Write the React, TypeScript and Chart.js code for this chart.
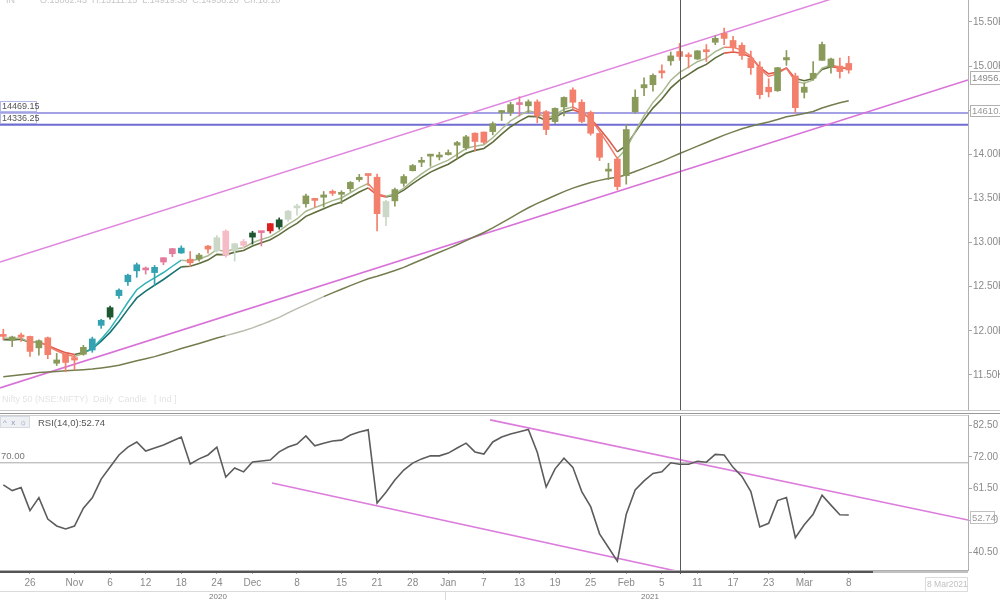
import React, { useEffect, useRef } from 'react';
import { Chart, registerables } from 'chart.js';

Chart.register(...registerables);
Chart.defaults.font.family = "'Liberation Sans', Arial, sans-serif";

// ---------- data (trading days 21 Oct 2020 .. 8 Mar 2021, index 0..95) ----------
const X_MIN = -0.37;
const X_MAX = 108.4;

const opens = [
  11957, 11931, 11931, 11937, 11807, 11922, 11633, 11734, 11697, 11734,
  11783, 12062, 12156, 12399, 12556, 12680, 12691, 12660, 12829, 12932,
  12882, 12812, 12813, 12960, 12906, 13130, 12907, 13012, 13062, 13122,
  13215, 13177, 13264, 13394, 13440, 13495, 13540, 13563, 13547, 13611,
  13714, 13764, 13741, 13292, 13473, 13672, 13815, 13910, 13980, 13970,
  13997, 14104, 14075, 14240, 14253, 14258, 14474, 14474, 14580, 14550,
  14595, 14484, 14371, 14538, 14730, 14590, 14477, 14237, 13810, 13946,
  13758, 14482, 14754, 14789, 14940, 15060, 15165, 15108, 15080, 15174,
  15270, 15371, 15290, 15236, 15090, 14990, 14760, 14720, 15070, 14888,
  14703, 14863, 15065, 14990, 15000, 15030,
];
const highs = [
  12018, 11940, 11975, 11942, 11899, 11930, 11744, 11749, 11726, 11836,
  11929, 12131, 12281, 12475, 12643, 12769, 12724, 12741, 12829, 12934,
  12963, 12899, 12879, 12968, 13079, 13145, 12993, 13036, 13128, 13128,
  13216, 13280, 13367, 13436, 13549, 13503, 13579, 13597, 13588, 13692,
  13773, 13771, 13777, 13478, 13619, 13771, 13885, 13967, 13997, 14024,
  14050, 14148, 14215, 14244, 14253, 14367, 14498, 14590, 14653, 14617,
  14618, 14495, 14528, 14652, 14753, 14619, 14491, 14237, 13899, 13967,
  14336, 14731, 14868, 14913, 15015, 15160, 15257, 15151, 15176, 15244,
  15341, 15432, 15336, 15264, 15170, 15050, 14857, 14986, 15177, 14920,
  14806, 15052, 15273, 15092, 15092, 15111,
];
const lows = [
  11898, 11822, 11880, 11711, 11723, 11684, 11607, 11535, 11557, 11723,
  11757, 12028, 12132, 12367, 12515, 12607, 12643, 12513, 12749, 12840,
  12877, 12730, 12790, 12881, 12894, 12833, 12790, 12936, 12983, 12962,
  13107, 13152, 13241, 13311, 13400, 13400, 13402, 13534, 13441, 13580,
  13693, 13647, 13131, 13192, 13413, 13638, 13811, 13860, 13865, 13937,
  13991, 13954, 14049, 14040, 14119, 14221, 14384, 14439, 14435, 14471,
  14357, 14222, 14350, 14435, 14517, 14358, 14218, 13929, 13713, 13597,
  13662, 14469, 14664, 14715, 14864, 15010, 15065, 14980, 15075, 15052,
  15243, 15243, 15164, 15075, 14905, 14630, 14651, 14713, 15008, 14468,
  14638, 14840, 15064, 14919, 14863, 14919,
];
const closes = [
  11937, 11896, 11930, 11767, 11889, 11730, 11670, 11642, 11669, 11813,
  11908, 12120, 12263, 12461, 12631, 12749, 12690, 12720, 12780, 12874,
  12938, 12771, 12859, 12926, 13055, 12858, 12987, 12969, 13109, 13113,
  13133, 13258, 13356, 13393, 13529, 13478, 13514, 13558, 13567, 13682,
  13740, 13760, 13328, 13466, 13601, 13749, 13873, 13932, 13982, 13982,
  14018, 14133, 14199, 14146, 14137, 14347, 14485, 14564, 14564, 14596,
  14434, 14281, 14521, 14645, 14590, 14372, 14239, 13967, 13818, 13635,
  14281, 14647, 14790, 14895, 14924, 15116, 15109, 15106, 15173, 15163,
  15315, 15314, 15209, 15119, 14982, 14676, 14708, 14982, 15097, 14529,
  14761, 14919, 15245, 15081, 14938, 14956,
];
const emaFast = [
  11920, 11912, 11918, 11868, 11875, 11827, 11775, 11731, 11710, 11744,
  11799, 11906, 12025, 12170, 12324, 12466, 12541, 12601, 12661, 12732,
  12801, 12791, 12814, 12851, 12919, 12899, 12928, 12942, 12998, 13036,
  13068, 13131, 13206, 13268, 13355, 13396, 13435, 13476, 13506, 13565,
  13623, 13669, 13555, 13525, 13550, 13616, 13702, 13779, 13847, 13892,
  13934, 14000, 14066, 14093, 14108, 14188, 14287, 14379, 14441, 14493,
  14473, 14409, 14446, 14512, 14538, 14483, 14402, 14257, 14111, 13952,
  14062, 14257, 14435, 14588, 14700, 14839, 14929, 14988, 15050, 15088,
  15164, 15214, 15212, 15181, 15115, 14969, 14882, 14915, 14976, 14827,
  14805, 14843, 14977, 15012, 14987, 14977,
];
const emaSlow = [
  11900, 11898, 11905, 11868, 11873, 11835, 11792, 11753, 11732, 11755,
  11797, 11883, 11983, 12107, 12243, 12373, 12451, 12517, 12582, 12654,
  12725, 12732, 12762, 12802, 12866, 12861, 12892, 12910, 12961, 12999,
  13032, 13090, 13158, 13218, 13297, 13342, 13384, 13427, 13461, 13517,
  13573, 13620, 13539, 13518, 13540, 13595, 13668, 13736, 13799, 13845,
  13888, 13950, 14013, 14045, 14066, 14139, 14228, 14313, 14376, 14430,
  14427, 14385, 14419, 14478, 14505, 14468, 14406, 14289, 14166, 14028,
  14101, 14249, 14393, 14524, 14627, 14753, 14842, 14907, 14973, 15019,
  15093, 15147, 15159, 15145, 15100, 14986, 14913, 14933, 14978, 14859,
  14835, 14859, 14963, 14994, 14978, 14972,
];
const sma50 = [
  11479, 11491, 11503, 11515, 11528, 11535, 11540, 11547, 11553, 11560,
  11568, 11580, 11594, 11610, 11635, 11661, 11684, 11708, 11737, 11767,
  11799, 11829, 11857, 11887, 11919, 11946, 11973, 12002, 12034, 12071,
  12111, 12153, 12204, 12251, 12297, 12342, 12388, 12430, 12472, 12512,
  12552, 12591, 12619, 12650, 12683, 12719, 12763, 12806, 12848, 12890,
  12932, 12976, 13022, 13069, 13114, 13167, 13223, 13281, 13339, 13395,
  13445, 13489, 13534, 13577, 13617, 13649, 13680, 13705, 13726, 13741,
  13768, 13806, 13844, 13884, 13921, 13966, 14009, 14051, 14093, 14134,
  14177, 14218, 14255, 14290, 14319, 14343, 14367, 14395, 14426, 14443,
  14463, 14486, 14525, 14557, 14584, 14608,
];
const rsiValues = [
  62.7, 60.8, 61.8, 54.2, 58.5, 51.4, 49.1, 48.1, 49.1, 55.0,
  58.4, 64.6, 68.6, 72.6, 75.2, 76.9, 73.9, 74.9, 75.9, 77.2,
  78.5, 69.6, 71.3, 72.6, 75.2, 65.3, 68.3, 67.0, 70.3, 70.6,
  70.9, 73.6, 75.2, 76.2, 78.9, 75.6, 76.5, 77.2, 77.5, 79.2,
  80.2, 80.9, 56.7, 60.3, 64.3, 67.6, 69.9, 71.3, 72.3, 72.3,
  73.2, 74.9, 76.5, 73.6, 72.9, 76.9, 78.5, 79.5, 80.3, 81.0,
  73.5, 62.0, 68.0, 71.5, 68.5, 60.5, 55.5, 46.5, 42.0, 37.5,
  53.0, 61.0, 64.0, 66.5, 67.0, 70.0, 69.5, 69.5, 70.5, 70.2,
  72.8, 72.6, 68.5, 65.5, 60.5, 48.8, 50.0, 57.5, 58.5, 45.2,
  49.5, 53.0, 59.3, 56.0, 52.8, 52.74,
];

const tickIndex = [3, 8, 12, 16, 20, 24, 28, 33, 38, 42, 46, 50, 54, 58, 62, 66, 70, 74, 78, 82, 86, 90, 95];
const tickLabels = ['26', 'Nov', '6', '12', '18', '24', 'Dec', '8', '15', '21', '28', 'Jan', '7', '13', '19', '25', 'Feb', '5', '11', '17', '23', 'Mar', '8'];
const priceTicks = [11500, 12000, 12500, 13000, 13500, 14000, 14500, 15000, 15500];
const rsiTicks = [40.5, 51, 61.5, 72, 82.5];
const levelValues = [14469.15, 14336.25];
const levelLabels = ['14469.15', '14336.25'];
const channelIdx = [X_MIN, X_MAX];
const priceUpperChannel = [12781, 16250];
const priceLowerChannel = [11353, 14843];
const rsiUpperIdx = [54.7, X_MAX];
const rsiUpperVal = [84.2, 51.1];
const rsiLowerIdx = [30.2, 76.1];
const rsiLowerVal = [63.3, 33.9];
const rsiLevel = 70;
const cursorIndex = 76;
const lastClose = 14956.2;
const lastSma = 14610.0;
const lastRsi = 52.74;

// ---------- styles ----------
const candleCodes =
  'SGSSGSGSSG' + 'TTDTTTPTPP' + 'TSGSLKLKDP' + 'RDLLGSGSGG' + 'GSSLGGGGGG' +
  'GGGSSGGGPG' + 'SSGGSSSSGS' + 'GGGGSGSSGS' + 'GSSSSSSGGS' + 'GGGGSS';
const candlePalette: Record<string, string> = {
  S: '#f2806c', G: '#8a9a5a', T: '#35a2b2', D: '#1d5630',
  P: '#e47b9c', K: '#f6bcc5', L: '#cbd8c8', R: '#de1f1f',
};
const trendCodes =
  'uuuuu' + 'dddd' + 'u' + 'ttttttttttt' + 'uuuuuuuuuuuuuuuuuuuuu' + 'dd' +
  'uuuuuuuuuuuuuuuuuuuuu' + 'ddddd' + 'uuuuuuuuuuuu' + 'dddddddd' + 'uuuu' + 'dd';
const fastPalette: Record<string, string> = { u: '#a9b98f', t: '#2fb3b8', d: '#f07a6a' };
const slowPalette: Record<string, string> = { u: '#5f6e3c', t: '#1b7272', d: '#e05a4a' };
const smaFadeFrom = 25;
const smaFadeTo = 36;

const candleColors = candleCodes.split('').map((c) => candlePalette[c]);

function drawBox(ctx: CanvasRenderingContext2D, x: number, y: number, w: number, h: number, text: string, stroke: string, color: string, font: string) {
  ctx.save();
  ctx.fillStyle = '#ffffff';
  ctx.fillRect(x, y, w, h);
  ctx.strokeStyle = stroke;
  ctx.lineWidth = 1;
  ctx.strokeRect(x + 0.5, y + 0.5, w - 1, h - 1);
  ctx.fillStyle = color;
  ctx.font = font;
  ctx.textBaseline = 'middle';
  ctx.textAlign = 'left';
  ctx.fillText(text, x + 2, y + h / 2 + 0.5);
  ctx.restore();
}

const cursorPlugin = (extraBottom: number) => ({
  id: 'cursorLine',
  afterDatasetsDraw(chart: any) {
    const { ctx, chartArea, scales } = chart;
    const x = Math.round(scales.x.getPixelForValue(cursorIndex)) + 0.5;
    ctx.save();
    ctx.strokeStyle = '#5a5a5a';
    ctx.lineWidth = 1;
    ctx.beginPath();
    ctx.moveTo(x, chartArea.top);
    ctx.lineTo(x, chartArea.bottom + extraBottom);
    ctx.stroke();
    ctx.restore();
  },
});

const pricePlugin = {
  id: 'priceDecor',
  afterDraw(chart: any) {
    const { ctx, scales } = chart;
    const ys = scales.y;
    ctx.save();
    ctx.font = "9px 'Liberation Sans', Arial";
    ctx.fillStyle = '#c6c6c6';
    ctx.textBaseline = 'alphabetic';
    ctx.fillText('IN', 6, 3);
    ctx.fillText('O:15062.45  H:15111.15  L:14919.30  C:14956.20  Ch:18.10', 40, 3);
    ctx.fillStyle = '#e4e4e4';
    ctx.fillText('Nifty 50 (NSE:NIFTY)  Daily  Candle   [ Ind ]', 2, 402);
    ctx.restore();
    levelValues.forEach((v, i) => {
      const y = ys.getPixelForValue(v);
      drawBox(ctx, 0, Math.round(y) - 12, 37, 11, levelLabels[i], '#b4b8e6', '#555', "9px 'Liberation Sans', Arial");
    });
    const yc = ys.getPixelForValue(lastClose);
    drawBox(ctx, 970, Math.round(yc) + 1, 31, 14, lastClose.toFixed(1), '#b0b0b0', '#888', "9.5px 'Liberation Sans', Arial");
    const ym = ys.getPixelForValue(lastSma);
    drawBox(ctx, 970, Math.round(ym) + 4, 31, 12, lastSma.toFixed(1), '#b0b0b0', '#999', "9.5px 'Liberation Sans', Arial");
    ctx.save();
    ctx.strokeStyle = '#c8c8c8';
    ctx.lineWidth = 1;
    ctx.beginPath();
    ctx.moveTo(0, 410.5);
    ctx.lineTo(1000, 410.5);
    ctx.stroke();
    ctx.restore();
  },
};

const rsiPlugin = {
  id: 'rsiDecor',
  afterDraw(chart: any) {
    const { ctx, scales, chartArea } = chart;
    const ys = scales.y;
    ctx.save();
    ctx.strokeStyle = '#9a9a9a';
    ctx.lineWidth = 1;
    ctx.beginPath();
    ctx.moveTo(0, 1.5);
    ctx.lineTo(1000, 1.5);
    ctx.stroke();
    ctx.strokeStyle = '#d0d0d0';
    ctx.beginPath();
    ctx.moveTo(0, chartArea.top + 0.5);
    ctx.lineTo(968, chartArea.top + 0.5);
    ctx.stroke();
    ctx.strokeStyle = '#555';
    ctx.lineWidth = 2;
    ctx.beginPath();
    ctx.moveTo(0, chartArea.bottom + 2);
    ctx.lineTo(873, chartArea.bottom + 2);
    ctx.stroke();
    ctx.strokeStyle = '#c0c0c0';
    ctx.beginPath();
    ctx.moveTo(873, chartArea.bottom + 2);
    ctx.lineTo(968, chartArea.bottom + 2);
    ctx.stroke();
    ctx.fillStyle = '#eef0f4';
    ctx.fillRect(0, 4, 30, 12);
    ctx.strokeStyle = '#d6dae2';
    ctx.lineWidth = 1;
    ctx.strokeRect(0.5, 4.5, 29, 11);
    ctx.fillStyle = '#8d9bb8';
    ctx.font = "8px 'Liberation Sans', Arial";
    ctx.textBaseline = 'middle';
    ctx.fillText('^  x  \u263C', 3, 10.5);
    ctx.fillStyle = '#555';
    ctx.font = "9.5px 'Liberation Sans', Arial";
    ctx.fillText('RSI(14,0):52.74', 38, 11);
    const y70 = ys.getPixelForValue(rsiLevel);
    ctx.fillStyle = '#777';
    ctx.fillText('70.00', 1, y70 - 6);
    ctx.strokeStyle = '#dadada';
    ctx.beginPath();
    ctx.moveTo(0, 179.5);
    ctx.lineTo(968, 179.5);
    ctx.moveTo(445.5, 179.5);
    ctx.lineTo(445.5, 188);
    ctx.stroke();
    ctx.fillStyle = '#777';
    ctx.font = "8px 'Liberation Sans', Arial";
    ctx.textAlign = 'center';
    ctx.fillText('2020', 218, 184.5);
    ctx.fillText('2021', 650, 184.5);
    ctx.textAlign = 'left';
    ctx.restore();
    const yr = ys.getPixelForValue(lastRsi);
    drawBox(ctx, 970, Math.round(yr) - 4, 25, 13, lastRsi.toFixed(2), '#c0c0c0', '#999', "9.5px 'Liberation Sans', Arial");
    drawBox(ctx, 925, 165, 43, 15, '8 Mar2021', '#dcdcdc', '#c0c0c0', "8.5px 'Liberation Sans', Arial");
  },
};

const pt = (xs: number[], ys: number[]) => xs.map((x, i) => ({ x, y: ys[i] }));

export default function App() {
  const priceRef = useRef<HTMLCanvasElement>(null);
  const rsiRef = useRef<HTMLCanvasElement>(null);

  useEffect(() => {
    const idx = closes.map((_, i) => i);
    const price = new Chart(priceRef.current as HTMLCanvasElement, {
      type: 'bar',
      data: {
        datasets: [
          {
            type: 'bar',
            data: idx.map((i) => ({ x: i, y: [opens[i], closes[i]] })) as any,
            backgroundColor: candleColors,
            barThickness: 6,
            minBarLength: 2,
            grouped: false,
            borderWidth: 0,
            order: 0,
          } as any,
          {
            type: 'bar',
            data: idx.map((i) => ({ x: i, y: [lows[i], highs[i]] })) as any,
            backgroundColor: candleColors,
            barThickness: 1,
            grouped: false,
            borderWidth: 0,
            order: 1,
          } as any,
          {
            type: 'line',
            data: pt(idx, emaFast),
            borderWidth: 1.5,
            pointRadius: 0,
            segment: { borderColor: (c: any) => fastPalette[trendCodes[c.p1DataIndex]] },
            borderColor: fastPalette.u,
            order: 2,
          } as any,
          {
            type: 'line',
            data: pt(idx, emaSlow),
            borderWidth: 1.6,
            pointRadius: 0,
            segment: { borderColor: (c: any) => slowPalette[trendCodes[c.p1DataIndex]] },
            borderColor: slowPalette.u,
            order: 2,
          } as any,
          {
            type: 'line',
            data: pt(idx, sma50),
            borderWidth: 1.5,
            pointRadius: 0,
            borderColor: '#737d4e',
            segment: {
              borderColor: (c: any) => (c.p1DataIndex > smaFadeFrom && c.p1DataIndex <= smaFadeTo ? '#b9bdae' : '#737d4e'),
            },
            order: 3,
          } as any,
          {
            type: 'line',
            data: pt(channelIdx, priceUpperChannel),
            borderWidth: 1.5,
            pointRadius: 0,
            borderColor: '#df86df',
            order: 4,
          } as any,
          {
            type: 'line',
            data: pt(channelIdx, priceLowerChannel),
            borderWidth: 1.6,
            pointRadius: 0,
            borderColor: '#d872d8',
            order: 4,
          } as any,
          ...levelValues.map((v, i) => ({
            type: 'line',
            data: pt(channelIdx, [v, v]),
            borderWidth: i === 0 ? 1.5 : 2,
            pointRadius: 0,
            borderColor: i === 0 ? '#8683dc' : '#6f6cd2',
            order: 4,
          })) as any,
        ],
      },
      options: {
        animation: false,
        responsive: false,
        events: [],
        layout: { padding: { left: 0, right: 0, top: 0, bottom: 2 } },
        plugins: { legend: { display: false }, tooltip: { enabled: false } },
        scales: {
          x: { type: 'linear', min: X_MIN, max: X_MAX, display: false, offset: false },
          y: {
            position: 'right',
            min: 11103,
            max: 15749,
            afterBuildTicks: (s: any) => { s.ticks = priceTicks.map((v) => ({ value: v })); },
            afterFit: (s: any) => { s.width = 32; s.paddingTop = 0; s.paddingBottom = 0; },
            ticks: {
              callback: (v: any) => (Number(v) / 1000).toFixed(2) + 'K',
              color: '#8a8a8a',
              font: { size: 10 },
              padding: 1,
            },
            grid: { drawOnChartArea: false, tickLength: 4, color: '#aaa' },
            border: { color: '#b0b0b0' },
          },
        },
      } as any,
      plugins: [cursorPlugin(0), pricePlugin],
    });

    const rsi = new Chart(rsiRef.current as HTMLCanvasElement, {
      type: 'line',
      data: {
        datasets: [
          {
            data: pt(idx, rsiValues),
            borderColor: '#5c5c5c',
            borderWidth: 1.6,
            pointRadius: 0,
            order: 0,
          },
          {
            data: pt(channelIdx, [rsiLevel, rsiLevel]),
            borderColor: '#a8a8a8',
            borderWidth: 1,
            pointRadius: 0,
            order: 2,
          },
          {
            data: pt(rsiUpperIdx, rsiUpperVal),
            borderColor: '#dc7cdc',
            borderWidth: 1.6,
            pointRadius: 0,
            order: 1,
          },
          {
            data: pt(rsiLowerIdx, rsiLowerVal),
            borderColor: '#dc7cdc',
            borderWidth: 1.6,
            pointRadius: 0,
            order: 1,
          },
        ] as any,
      },
      options: {
        animation: false,
        responsive: false,
        events: [],
        layout: { padding: { left: 0, right: 0, top: 3, bottom: 0 } },
        plugins: { legend: { display: false }, tooltip: { enabled: false } },
        scales: {
          x: {
            type: 'linear',
            min: X_MIN,
            max: X_MAX,
            offset: false,
            afterBuildTicks: (s: any) => { s.ticks = tickIndex.map((v) => ({ value: v })); },
            afterFit: (s: any) => { s.height = 30; s.paddingLeft = 0; s.paddingRight = 0; },
            ticks: {
              autoSkip: false,
              maxRotation: 0,
              callback: (_v: any, i: number) => tickLabels[i],
              color: '#8a8a8a',
              font: { size: 10 },
              padding: 3,
            },
            grid: { drawOnChartArea: false, tickLength: 4, color: '#aaa' },
            border: { color: '#b0b0b0' },
          },
          y: {
            position: 'right',
            min: 34.55,
            max: 85.81,
            afterBuildTicks: (s: any) => { s.ticks = rsiTicks.map((v) => ({ value: v })); },
            afterFit: (s: any) => { s.width = 32; s.paddingTop = 0; s.paddingBottom = 0; },
            ticks: {
              callback: (v: any) => Number(v).toFixed(2),
              color: '#8a8a8a',
              font: { size: 10 },
              padding: 1,
            },
            grid: { drawOnChartArea: false, tickLength: 4, color: '#aaa' },
            border: { color: '#b0b0b0' },
          },
        },
      } as any,
      plugins: [cursorPlugin(4), rsiPlugin],
    });

    return () => {
      price.destroy();
      rsi.destroy();
    };
  }, []);

  return (
    <div style={{ position: 'fixed', left: 0, top: 0, width: 1000, height: 600, background: '#ffffff', overflow: 'hidden' }}>
      <canvas ref={priceRef} width={1000} height={412} style={{ position: 'absolute', left: 0, top: 0 }} />
      <canvas ref={rsiRef} width={1000} height={188} style={{ position: 'absolute', left: 0, top: 412 }} />
    </div>
  );
}
